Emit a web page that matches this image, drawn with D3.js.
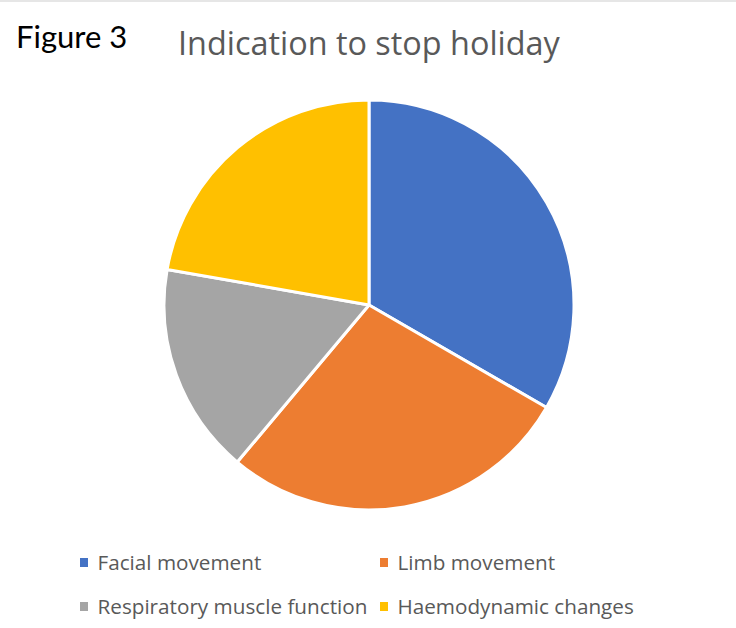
<!DOCTYPE html>
<html><head><meta charset="utf-8">
<script src="https://cdn.jsdelivr.net/npm/d3@7"></script>
<style>body{margin:0;background:#fff;} svg{display:block;}</style>
</head><body>
<svg id="c" width="736" height="628"></svg>
<script>
const categories = ["Facial movement", "Limb movement", "Respiratory muscle function", "Haemodynamic changes"];
const values = [6, 5, 3, 4];
const colors = ["#4472C4", "#ED7D31", "#A5A5A5", "#FFC000"];

const svg = d3.select("#c");
const font = "'Open Sans', 'Noto Sans', sans-serif";
svg.append("rect").attr("x",0).attr("y",0).attr("width",736).attr("height",2).attr("fill","#e6e6e6");

svg.append("text").attr("x",16).attr("y",48).attr("font-family","Lato, sans-serif").attr("font-size",31)
  .attr("fill","#000").text("Figure 3");
svg.append("text").attr("x",178).attr("y",55).attr("font-family",font).attr("font-size",32.4)
  .attr("fill","#595959").text("Indication to stop holiday");

const cx = 369, cy = 305, r = 205;
const pie = d3.pie().sort(null).value(d => d)(values);
const arc = d3.arc().innerRadius(0).outerRadius(r);
const g = svg.append("g").attr("transform", `translate(${cx},${cy})`);
g.selectAll("path").data(pie).join("path")
  .attr("d", arc).attr("fill", (d,i) => colors[i])
  .attr("stroke", "#fff").attr("stroke-width", 3).attr("stroke-linejoin","round");

const legX = [80, 380], legY = [570, 614];
const leg = svg.append("g");
categories.forEach((c,i) => {
  const x = legX[i%2], y = legY[Math.floor(i/2)];
  leg.append("rect").attr("x", x).attr("y", y-12).attr("width", 8).attr("height", 9).attr("fill", colors[i]);
  leg.append("text").attr("x", x+17.5).attr("y", y).attr("font-family", font).attr("font-size", 20.7)
    .attr("fill", "#595959").text(c);
});
</script>
</body></html>
